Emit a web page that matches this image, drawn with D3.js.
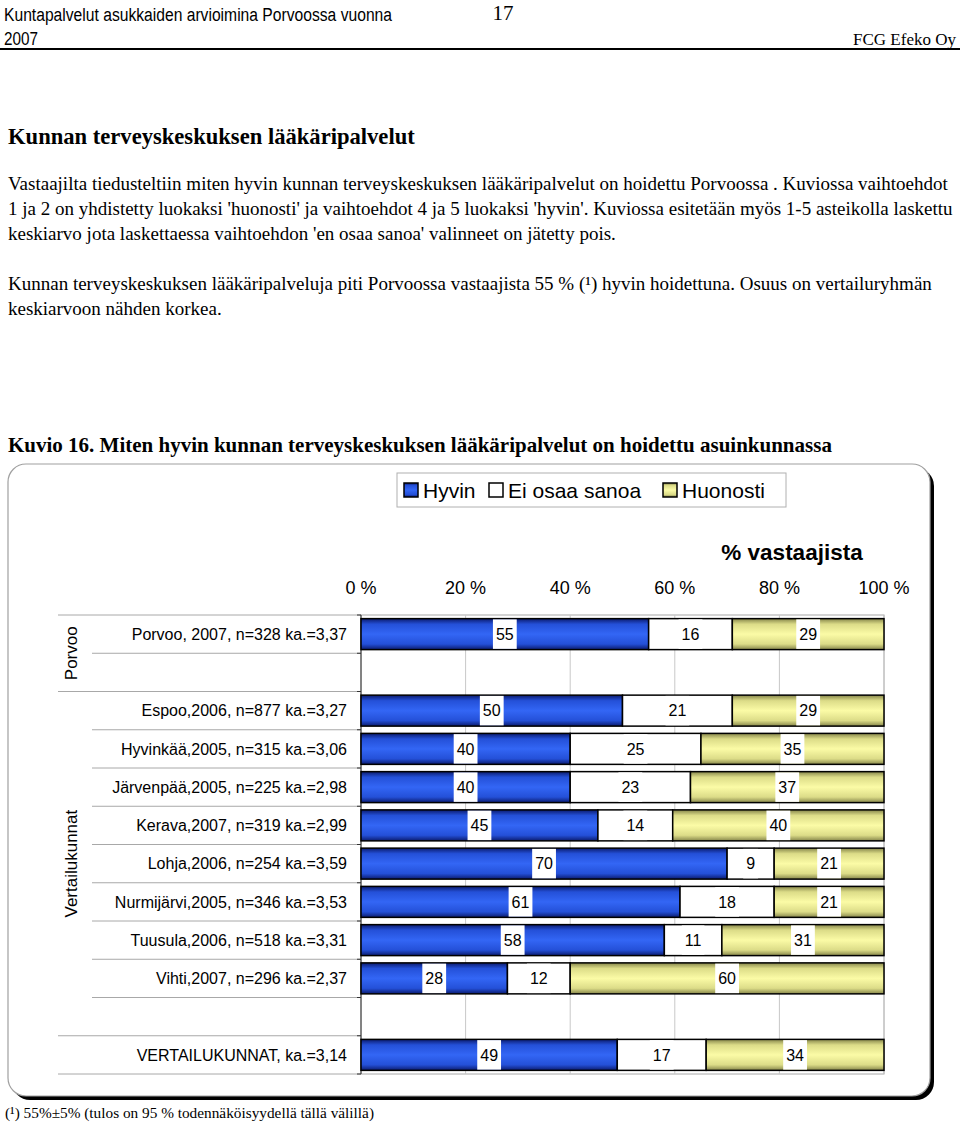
<!DOCTYPE html>
<html><head><meta charset="utf-8">
<script src="https://cdn.jsdelivr.net/npm/d3@7"></script>
<style>body{margin:0;background:#fff}svg{display:block}</style>
</head><body>
<script>
// ---- data ----
const categories = [
  "Porvoo, 2007, n=328 ka.=3,37", "",
  "Espoo,2006, n=877 ka.=3,27",
  "Hyvinkää,2005, n=315 ka.=3,06",
  "Järvenpää,2005, n=225 ka.=2,98",
  "Kerava,2007, n=319 ka.=2,99",
  "Lohja,2006, n=254 ka.=3,59",
  "Nurmijärvi,2005, n=346 ka.=3,53",
  "Tuusula,2006, n=518 ka.=3,31",
  "Vihti,2007, n=296 ka.=2,37", "",
  "VERTAILUKUNNAT, ka.=3,14"
];
const groups = ["Porvoo","Porvoo","Vertailukunnat","Vertailukunnat","Vertailukunnat","Vertailukunnat","Vertailukunnat","Vertailukunnat","Vertailukunnat","Vertailukunnat","Vertailukunnat",""];
const hyvin    = [55, null, 50, 40, 40, 45.3, 70, 61, 58, 28, null, 49];
const eiOsaa   = [16, null, 21, 25, 23, 14.3,  9, 18, 11, 12, null, 17];
const huonosti = [29, null, 29, 35, 37, 40.4, 21, 21, 31, 60, null, 34];
const seriesNames = ["Hyvin", "Ei osaa sanoa", "Huonosti"];
const tickValues = [0, 20, 40, 60, 80, 100];
const tickLabels = ["0 %", "20 %", "40 %", "60 %", "80 %", "100 %"];

const W = 960, H = 1125;
const svg = d3.select("body").append("svg").attr("width", W).attr("height", H)
  .attr("font-family", "'Liberation Sans', Arial, sans-serif");
const serif = "'Liberation Serif', 'Times New Roman', serif";

// ---- gradients ----
const defs = svg.append("defs");
function grad(id, edge, mid, center) {
  const g = defs.append("linearGradient").attr("id", id).attr("x1", 0).attr("y1", 0).attr("x2", 0).attr("y2", 1);
  [[0, edge], [0.18, mid], [0.5, center], [0.82, mid], [1, edge]].forEach(([o, c]) =>
    g.append("stop").attr("offset", o).attr("stop-color", c));
}
grad("gBlue", "#0b1b6e", "#2450d8", "#3366f5");
grad("gYel", "#85854a", "#dcdc88", "#fbfba6");
const fills = ["url(#gBlue)", "#ffffff", "url(#gYel)"];

// ---- page header ----
svg.append("text").attr("x", 4).attr("y", 21).attr("font-family", "'Liberation Sans Narrow', 'Liberation Sans', sans-serif")
  .attr("font-size", 18).attr("textLength", 388).attr("lengthAdjust", "spacingAndGlyphs")
  .text("Kuntapalvelut asukkaiden arvioimina Porvoossa vuonna");
svg.append("text").attr("x", 4).attr("y", 45).attr("font-family", "'Liberation Sans Narrow', 'Liberation Sans', sans-serif")
  .attr("font-size", 18).attr("textLength", 34).attr("lengthAdjust", "spacingAndGlyphs").text("2007");
svg.append("text").attr("x", 503).attr("y", 20).attr("text-anchor", "middle").attr("font-family", serif).attr("font-size", 21).text("17");
svg.append("text").attr("x", 956).attr("y", 45).attr("text-anchor", "end").attr("font-family", serif).attr("font-size", 17).text("FCG Efeko Oy");
svg.append("rect").attr("x", 0).attr("y", 48).attr("width", 960).attr("height", 2).attr("fill", "#000");

// ---- body text ----
svg.append("text").attr("x", 8).attr("y", 144).attr("font-family", serif).attr("font-size", 22.6).attr("font-weight", "bold")
  .text("Kunnan terveyskeskuksen lääkäripalvelut");
const para = [
  ["Vastaajilta tiedusteltiin miten hyvin kunnan terveyskeskuksen lääkäripalvelut on hoidettu Porvoossa . Kuviossa vaihtoehdot", 190],
  ["1 ja 2 on yhdistetty luokaksi 'huonosti' ja vaihtoehdot 4 ja 5 luokaksi 'hyvin'. Kuviossa esitetään myös 1-5 asteikolla laskettu", 215],
  ["keskiarvo jota laskettaessa vaihtoehdon 'en osaa sanoa' valinneet on jätetty pois.", 240],
  ["Kunnan terveyskeskuksen lääkäripalveluja piti Porvoossa vastaajista 55 % (¹) hyvin hoidettuna. Osuus on vertailuryhmän", 290],
  ["keskiarvoon nähden korkea.", 315]
];
para.forEach(([t, y]) => svg.append("text").attr("x", 8).attr("y", y).attr("font-family", serif).attr("font-size", 19).text(t));
svg.append("text").attr("x", 8).attr("y", 452).attr("font-family", serif).attr("font-size", 21).attr("font-weight", "bold")
  .text("Kuvio 16. Miten hyvin kunnan terveyskeskuksen lääkäripalvelut on hoidettu asuinkunnassa");

// ---- chart frame ----
svg.append("rect").attr("x", 12).attr("y", 468).attr("width", 922).attr("height", 632).attr("rx", 18).attr("fill", "#000");
svg.append("rect").attr("x", 8).attr("y", 464).attr("width", 922).attr("height", 632).attr("rx", 18)
  .attr("fill", "#fff").attr("stroke", "#a0a0a0").attr("stroke-width", 1.2);

// ---- scales ----
const x = d3.scaleLinear().domain([0, 100]).range([361, 884]);
const yb = d3.scaleBand().domain(d3.range(categories.length)).range([615, 1074]).paddingInner(0.19).paddingOuter(0.095);
const step = yb.step();
const slotTop = i => 615 + i * step;

// plot area
const plot = svg.append("g");
plot.append("rect").attr("x", x(0)).attr("y", 615).attr("width", x(100) - x(0)).attr("height", 1074 - 615)
  .attr("fill", "none").attr("stroke", "#a8a8a8").attr("stroke-width", 1);
plot.selectAll("line.grid").data(tickValues.slice(1)).join("line").attr("class", "grid")
  .attr("x1", d => x(d)).attr("x2", d => x(d)).attr("y1", 615).attr("y2", 1074)
  .attr("stroke", "#c8c8c8").attr("stroke-width", 1);

// x tick labels
svg.selectAll("text.tick").data(tickValues).join("text").attr("class", "tick")
  .attr("x", d => x(d)).attr("y", 594).attr("text-anchor", "middle").attr("font-size", 18)
  .text((d, i) => tickLabels[i]);
svg.append("text").attr("x", 792).attr("y", 560).attr("text-anchor", "middle").attr("font-size", 22.5).attr("font-weight", "bold")
  .text("% vastaajista");

// category separators
for (let i = 0; i <= categories.length; i++) {
  const isGroupEdge = i === 0 || i === categories.length || groups[i] !== groups[i - 1];
  svg.append("line").attr("x1", isGroupEdge ? 58 : 92).attr("x2", x(0)).attr("y1", slotTop(i)).attr("y2", slotTop(i))
    .attr("stroke", "#a8a8a8").attr("stroke-width", 1);
  svg.append("line").attr("x1", x(0) - 4).attr("x2", x(0)).attr("y1", slotTop(i)).attr("y2", slotTop(i))
    .attr("stroke", "#333").attr("stroke-width", 1);
}
svg.append("line").attr("x1", x(0)).attr("x2", x(0)).attr("y1", 615).attr("y2", 1074).attr("stroke", "#333").attr("stroke-width", 1);

// category labels
svg.selectAll("text.cat").data(categories).join("text").attr("class", "cat")
  .attr("x", 347).attr("y", (d, i) => yb(i) + yb.bandwidth() / 2).attr("dy", "0.36em")
  .attr("text-anchor", "end").attr("font-size", 16).text(d => d);

// group labels
const groupNames = Array.from(new Set(groups)).filter(g => g);
groupNames.forEach(g => {
  const idx = groups.map((v, i) => v === g ? i : -1).filter(i => i >= 0);
  const cy = (slotTop(idx[0]) + slotTop(idx[idx.length - 1] + 1)) / 2;
  svg.append("text").attr("transform", `translate(77,${cy}) rotate(-90)`).attr("text-anchor", "middle")
    .attr("font-size", 17).text(g);
});

// bars
const series = [hyvin, eiOsaa, huonosti];
const barG = svg.append("g");
categories.forEach((c, i) => {
  if (hyvin[i] == null) return;
  let acc = 0;
  const segs = series.map((s, k) => { const a = acc; acc += s[i]; return { k, v: s[i], a, b: acc }; });
  segs.forEach(sg => {
    barG.append("rect").attr("x", x(sg.a)).attr("y", yb(i)).attr("width", x(sg.b) - x(sg.a)).attr("height", yb.bandwidth())
      .attr("fill", fills[sg.k]).attr("stroke", "#000").attr("stroke-width", 1.5);
  });
  segs.forEach(sg => {
    const cx = (x(sg.a) + x(sg.b)) / 2;
    const t = barG.append("text").attr("x", cx).attr("y", yb(i) + yb.bandwidth() / 2).attr("dy", "0.36em")
      .attr("text-anchor", "middle").attr("font-size", 16).text(d3.format(".0f")(sg.v));
    const w = t.node().getComputedTextLength() + 6;
    barG.insert("rect", () => t.node()).attr("x", cx - w / 2).attr("y", yb(i) + 0.75).attr("width", w)
      .attr("height", yb.bandwidth() - 1.5).attr("fill", "#fff");
  });
});

// legend
const lg = svg.append("g");
lg.append("rect").attr("x", 397).attr("y", 473).attr("width", 389).attr("height", 34)
  .attr("fill", "#fff").attr("stroke", "#b0b0b0").attr("stroke-width", 1);
const legX = [404, 489, 663];
seriesNames.forEach((n, k) => {
  lg.append("rect").attr("x", legX[k]).attr("y", 483).attr("width", 14).attr("height", 14)
    .attr("fill", fills[k]).attr("stroke", "#000").attr("stroke-width", 1.5);
  lg.append("text").attr("x", legX[k] + 19).attr("y", 497.5).attr("font-size", 21).text(n);
});

// footnote
svg.append("text").attr("x", 5).attr("y", 1118).attr("font-family", serif).attr("font-size", 15.3)
  .text("(¹) 55%±5% (tulos on 95 % todennäköisyydellä tällä välillä)");
</script>
</body></html>
